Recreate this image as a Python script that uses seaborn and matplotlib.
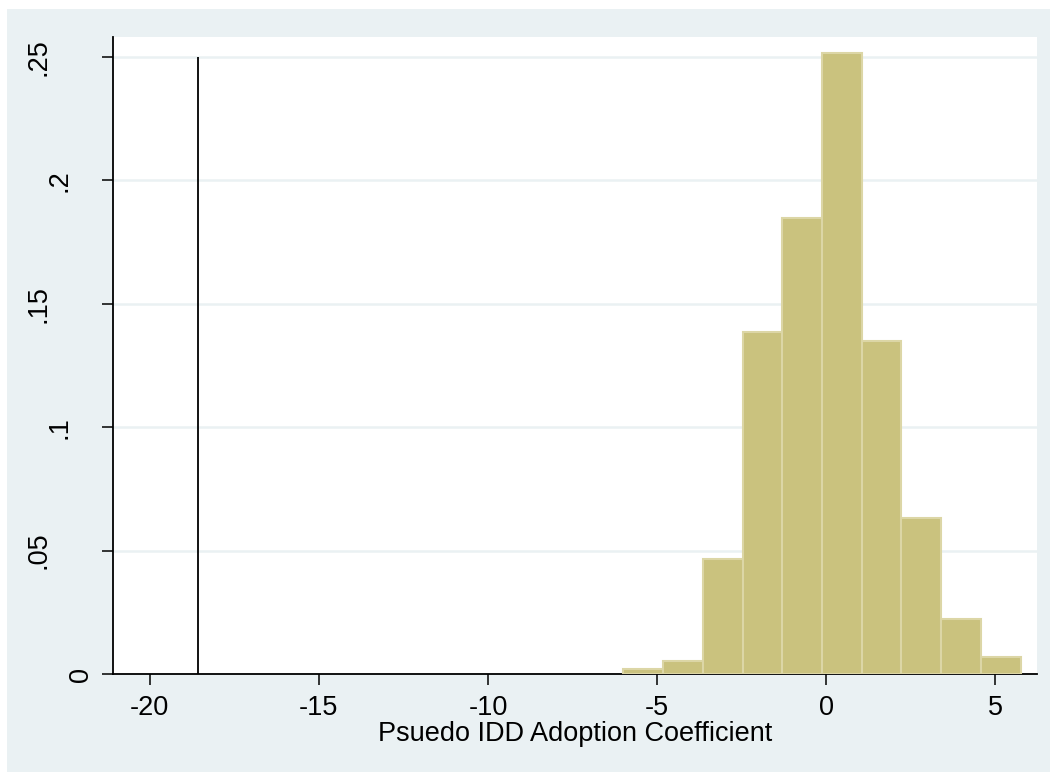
import numpy as np
import matplotlib
matplotlib.use("Agg")
import matplotlib.pyplot as plt
import seaborn as sns

# ---- data ----
bin_edges = [-6.01, -4.83, -3.65, -2.47, -1.29, -0.12, 1.06, 2.23, 3.41, 4.59, 5.77]
densities = [0.0019, 0.0053, 0.0464, 0.1386, 0.1848, 0.2516, 0.1351, 0.0631, 0.0222, 0.0068]
observed_coef = -18.58
observed_line_top = 0.25
x_ticks = [-20, -15, -10, -5, 0, 5]
x_tick_labels = ["-20", "-15", "-10", "-5", "0", "5"]
y_ticks = [0, 0.05, 0.10, 0.15, 0.20, 0.25]
y_tick_labels = ["0", ".05", ".1", ".15", ".2", ".25"]
x_label = "Psuedo IDD Adoption Coefficient"

sns.set_theme(style="white")
plt.rcParams["font.family"] = ["Liberation Sans", "DejaVu Sans"]
plt.rcParams["axes.unicode_minus"] = False

W, H = 1050, 772
fig = plt.figure(figsize=(W / 100, H / 100), dpi=100)
fig.patch.set_facecolor("white")
bg = plt.Rectangle((7 / W, 0), 1 - 7 / W, 1 - 9 / H, transform=fig.transFigure,
                   facecolor="#EAF1F3", edgecolor="none", zorder=0)
fig.patches.append(bg)

ax = fig.add_axes([113 / W, 1 - 674 / H, (1037 - 113) / W, (674 - 37) / H])
ax.set_zorder(5)
ax.set_facecolor("white")

centers = [(a + b) / 2 for a, b in zip(bin_edges[:-1], bin_edges[1:])]
sns.histplot(x=centers, weights=densities, bins=bin_edges, stat="count",
             color="#CAC27E", edgecolor="#DCD6A6", linewidth=1.5, alpha=1,
             ax=ax, zorder=3)

ax.vlines(observed_coef, 0, observed_line_top, color="black", linewidth=1.3, zorder=4)

ax.set_xlim(-21.09, 6.24)
ax.set_ylim(0, 0.2581)

ax.set_yticks(y_ticks)
ax.set_yticklabels(y_tick_labels, rotation=90, va="center", ha="right")
ax.set_xticks(x_ticks)
ax.set_xticklabels(x_tick_labels)

ax.yaxis.grid(True, color="#EAF1F3", linewidth=1.8, zorder=0)
ax.xaxis.grid(False)
ax.set_axisbelow(True)

for s in ["top", "right"]:
    ax.spines[s].set_visible(False)
for s in ["left", "bottom"]:
    ax.spines[s].set_color("black")
    ax.spines[s].set_linewidth(1.3)

ax.tick_params(axis="both", which="major", direction="out", length=8, width=1.1,
               color="black", labelsize=19.5, labelcolor="black", left=True, bottom=True)
ax.tick_params(axis="x", pad=7)

# Stata-style placement of rotated y labels
pads = {"0": 6, ".05": 36, ".1": 21, ".15": 36, ".2": 21, ".25": 36}
for tick, lab in zip(ax.yaxis.get_major_ticks(), y_tick_labels):
    tick.set_pad(pads[lab])

ax.set_xlabel(x_label, fontsize=19.5, color="black", labelpad=0)
ax.set_ylabel("")

fig.savefig("out.png", dpi=100, facecolor=fig.get_facecolor())
